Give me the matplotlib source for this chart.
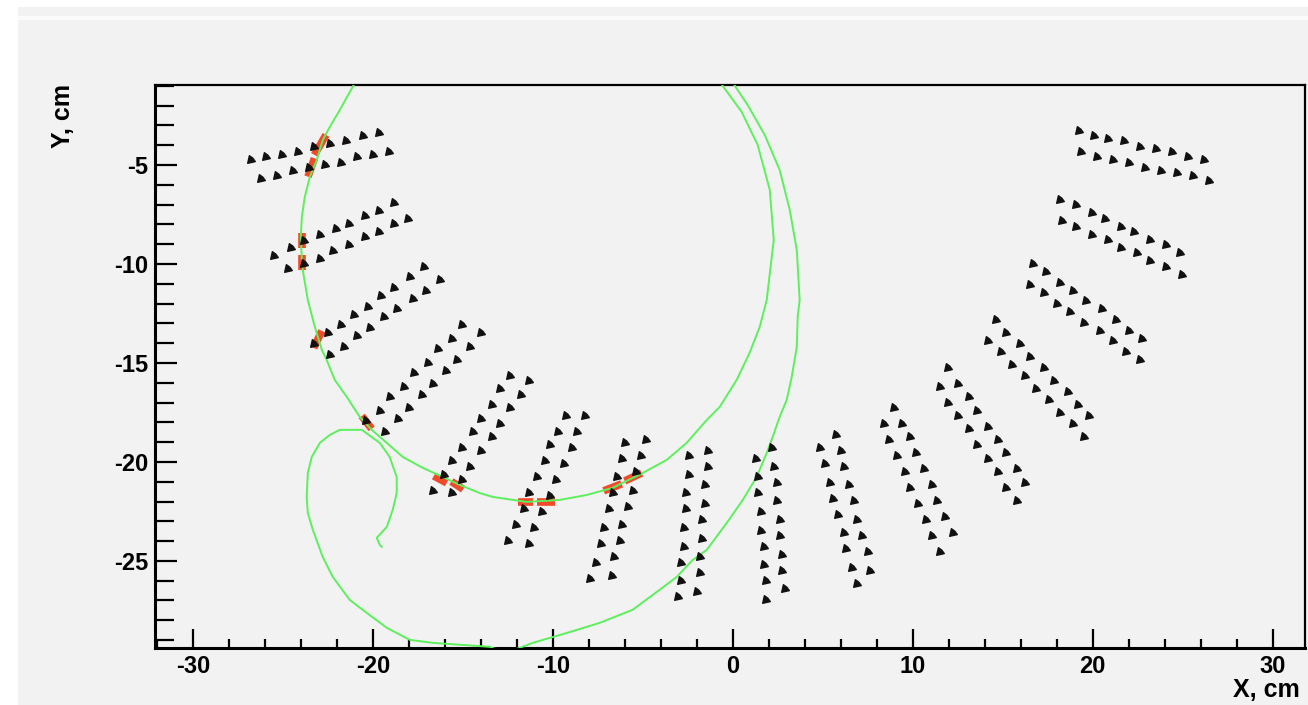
import matplotlib
matplotlib.use('Agg')
import matplotlib.pyplot as plt
from matplotlib.ticker import MultipleLocator
from matplotlib.path import Path
from matplotlib.patches import Rectangle

plt.rcParams['axes.unicode_minus'] = False

# wire positions, cm: two rows per sector, sectors from left to right
wire_x = [
    [-19.68, -20.57, -21.46, -22.35, -23.24, -24.13, -25.02, -25.91, -26.79],
    [-19.09, -19.98, -20.87, -21.76, -22.65, -23.54, -24.43, -25.31, -26.20],
    [-18.80, -19.68, -20.43, -21.32, -22.06, -22.94, -23.83, -24.57, -25.46],
    [-18.06, -18.80, -19.68, -20.43, -21.32, -22.20, -22.94, -23.83, -24.72],
    [-17.17, -17.91, -18.80, -19.54, -20.28, -21.02, -21.76, -22.50, -23.24],
    [-16.28, -17.02, -17.76, -18.65, -19.39, -20.13, -20.87, -21.61, -22.35],
    [-15.02, -15.61, -16.35, -16.94, -17.69, -18.28, -19.02, -19.61, -20.35],
    [-13.98, -14.57, -15.32, -15.91, -16.65, -17.24, -17.98, -18.57, -19.32],
    [-12.35, -12.94, -13.39, -13.98, -14.43, -15.02, -15.61, -16.06, -16.65],
    [-11.31, -11.76, -12.35, -12.94, -13.39, -13.98, -14.57, -15.02, -15.61],
    [-9.24, -9.68, -10.13, -10.43, -10.87, -11.31, -11.61, -12.06, -12.50],
    [-8.20, -8.65, -8.94, -9.39, -9.83, -10.13, -10.57, -11.02, -11.31],
    [-5.98, -6.13, -6.43, -6.65, -6.87, -7.17, -7.31, -7.61, -7.91],
    [-4.79, -5.09, -5.39, -5.54, -5.83, -6.13, -6.28, -6.57, -6.72],
    [-2.43, -2.43, -2.57, -2.57, -2.72, -2.72, -2.87, -2.87, -3.02],
    [-1.39, -1.39, -1.54, -1.54, -1.68, -1.68, -1.83, -1.83, -1.98],
    [1.28, 1.43, 1.43, 1.57, 1.57, 1.72, 1.72, 1.87, 1.87],
    [2.17, 2.32, 2.46, 2.46, 2.61, 2.61, 2.76, 2.76, 2.91],
    [4.83, 5.13, 5.43, 5.57, 5.87, 6.17, 6.32, 6.61, 6.91],
    [5.72, 6.02, 6.17, 6.46, 6.76, 6.91, 7.20, 7.50, 7.65],
    [8.39, 8.68, 9.13, 9.57, 9.87, 10.32, 10.76, 11.06, 11.50],
    [8.98, 9.43, 9.87, 10.17, 10.61, 11.06, 11.35, 11.79, 12.24],
    [11.50, 11.94, 12.54, 13.13, 13.57, 14.17, 14.76, 15.20, 15.80],
    [11.94, 12.54, 13.13, 13.57, 14.17, 14.76, 15.20, 15.80, 16.24],
    [14.17, 14.91, 15.50, 16.24, 16.83, 17.57, 18.17, 18.91, 19.50],
    [14.61, 15.20, 15.94, 16.54, 17.28, 17.87, 18.61, 19.20, 19.80],
    [16.54, 17.28, 18.02, 18.76, 19.50, 20.39, 21.13, 21.87, 22.61],
    [16.69, 17.43, 18.17, 18.91, 19.65, 20.54, 21.28, 22.02, 22.76],
    [18.32, 19.06, 19.94, 20.83, 21.57, 22.46, 23.21, 24.09, 24.98],
    [18.17, 19.06, 19.94, 20.68, 21.57, 22.32, 23.21, 24.09, 24.83],
    [19.35, 20.24, 21.13, 22.02, 22.91, 23.79, 24.68, 25.57, 26.46],
    [19.22, 20.09, 20.85, 21.72, 22.61, 23.50, 24.41, 25.28, 26.17],
]
wire_y = [
    [-3.35, -3.48, -3.75, -3.89, -4.03, -4.29, -4.43, -4.56, -4.70],
    [-4.29, -4.43, -4.56, -4.83, -4.96, -5.10, -5.24, -5.51, -5.64],
    [-6.85, -7.26, -7.53, -7.93, -8.20, -8.47, -8.80, -9.14, -9.55],
    [-7.66, -7.93, -8.33, -8.60, -9.00, -9.28, -9.68, -9.95, -10.22],
    [-10.09, -10.62, -11.16, -11.57, -12.11, -12.51, -13.05, -13.45, -13.99],
    [-10.76, -11.30, -11.70, -12.24, -12.64, -13.18, -13.59, -14.13, -14.53],
    [-13.05, -13.72, -14.26, -14.93, -15.47, -16.15, -16.68, -17.36, -17.89],
    [-13.45, -14.13, -14.80, -15.34, -16.01, -16.55, -17.22, -17.76, -18.43],
    [-15.61, -16.28, -17.09, -17.76, -18.43, -19.24, -19.91, -20.59, -21.40],
    [-15.87, -16.55, -17.22, -18.03, -18.70, -19.38, -20.19, -20.86, -21.53],
    [-17.63, -18.43, -19.11, -19.91, -20.72, -21.53, -22.34, -23.15, -23.95],
    [-17.63, -18.43, -19.24, -20.05, -20.86, -21.67, -22.47, -23.28, -24.09],
    [-18.97, -19.78, -20.72, -21.53, -22.34, -23.28, -24.09, -25.04, -25.84],
    [-18.84, -19.65, -20.45, -21.40, -22.21, -23.15, -23.95, -24.76, -25.71],
    [-19.65, -20.59, -21.53, -22.34, -23.28, -24.23, -25.04, -25.97, -26.78],
    [-19.38, -20.19, -21.13, -22.07, -22.88, -23.82, -24.76, -25.57, -26.52],
    [-19.78, -20.72, -21.53, -22.47, -23.42, -24.23, -25.17, -25.97, -26.92],
    [-19.24, -20.19, -20.99, -21.93, -22.88, -23.69, -24.63, -25.44, -26.38],
    [-19.24, -20.05, -20.99, -21.80, -22.61, -23.55, -24.36, -25.30, -26.11],
    [-18.57, -19.38, -20.19, -21.13, -21.93, -22.88, -23.69, -24.49, -25.44],
    [-18.03, -18.84, -19.65, -20.45, -21.26, -22.07, -22.88, -23.69, -24.49],
    [-17.22, -18.03, -18.70, -19.51, -20.32, -21.13, -21.93, -22.74, -23.55],
    [-16.15, -16.95, -17.63, -18.30, -19.11, -19.78, -20.45, -21.26, -21.93],
    [-15.20, -16.01, -16.68, -17.36, -18.17, -18.84, -19.51, -20.32, -20.99],
    [-13.85, -14.39, -15.07, -15.61, -16.28, -16.82, -17.49, -18.03, -18.70],
    [-12.78, -13.45, -13.99, -14.66, -15.20, -15.87, -16.41, -17.09, -17.63],
    [-11.03, -11.43, -11.97, -12.37, -12.91, -13.32, -13.85, -14.39, -14.80],
    [-9.95, -10.35, -10.89, -11.30, -11.83, -12.24, -12.78, -13.32, -13.72],
    [-7.79, -8.07, -8.47, -8.74, -9.14, -9.41, -9.81, -10.09, -10.49],
    [-6.72, -6.98, -7.39, -7.66, -8.07, -8.33, -8.74, -9.00, -9.41],
    [-4.29, -4.56, -4.70, -4.83, -5.10, -5.24, -5.37, -5.51, -5.77],
    [-3.22, -3.48, -3.62, -3.75, -4.03, -4.16, -4.29, -4.56, -4.70],
]

# fired cells (short segments), cm
hit_x0 = [-22.60, -23.24, -23.92, -23.92, -22.83, -20.61, -16.61, -15.63, -11.94, -10.89, -7.17, -6.00]
hit_x1 = [-23.24, -23.60, -23.92, -23.92, -23.28, -20.06, -15.89, -14.98, -11.11, -9.89, -6.17, -5.06]
hit_y0 = [-3.48, -4.66, -8.43, -9.55, -13.38, -17.68, -20.71, -20.99, -22.00, -22.00, -21.46, -20.96]
hit_y1 = [-4.49, -5.59, -9.19, -10.30, -14.24, -18.33, -21.06, -21.38, -22.00, -22.00, -21.11, -20.56]

# track 1 (arc)
trk1_x = [-20.90, -21.83, -22.39, -22.78, -23.11, -23.50, -23.78, -23.94, -24.00, -23.94,
          -23.89, -23.61, -23.22, -22.83, -22.56, -22.11, -21.44, -20.72, -20.06, -19.22,
          -18.33, -17.22, -16.11, -15.17, -14.06, -13.33, -11.44, -9.61, -8.11, -6.67,
          -5.00, -3.67, -2.56, -1.44, -0.72, 0.22, 0.94, 1.50, 1.89, 2.28,
          2.06, 1.39, 0.50, -0.80]
trk1_y = [-0.70, -2.22, -3.08, -3.74, -4.75, -5.61, -6.62, -7.63, -8.64, -9.80,
          -10.30, -11.82, -13.18, -14.34, -14.85, -15.86, -16.72, -17.73, -18.38, -19.04,
          -19.75, -20.30, -20.76, -21.16, -21.57, -21.77, -22.02, -21.92, -21.67, -21.31,
          -20.56, -19.90, -19.04, -17.88, -17.22, -15.86, -14.49, -13.18, -11.82, -8.79,
          -6.26, -3.99, -2.32, -0.70]

# track 2 (spiral)
trk2_x = [-0.10, 0.83, 1.78, 2.61, 3.17, 3.56, 3.72, 3.61, 3.56, 3.28,
          3.00, 2.61, 2.22, 1.89, 1.33, 0.56, -0.33, -1.44, -2.22, -3.11,
          -4.06, -5.56, -7.39, -9.22, -11.11, -11.83, -12.67, -13.50, -16.67, -17.94,
          -19.22, -20.33, -21.28, -22.22, -22.78, -23.33, -23.61, -23.67, -23.61, -23.39,
          -22.94, -22.39, -21.83, -20.61, -19.61, -19.06, -18.67, -18.67, -18.89, -19.22,
          -19.78, -19.61, -19.50]
trk2_y = [-0.70, -1.97, -3.48, -5.25, -7.27, -9.29, -11.82, -12.68, -14.19, -15.71,
          -16.87, -17.73, -18.74, -19.55, -20.76, -21.92, -23.08, -24.44, -24.95, -25.81,
          -26.46, -27.47, -28.13, -28.64, -29.14, -29.39, -29.65, -29.34, -29.14, -28.99,
          -28.38, -27.63, -26.97, -25.81, -24.80, -23.43, -22.58, -21.77, -20.56, -19.75,
          -19.04, -18.64, -18.38, -18.38, -19.04, -19.75, -20.76, -21.57, -22.42, -23.28,
          -23.84, -24.19, -24.29]

x_ticks = [-30, -20, -10, 0, 10, 20, 30]
y_ticks = [-25, -20, -15, -10, -5]

BG = '#f2f2f2'
fig = plt.figure(figsize=(13.08, 7.05), dpi=100, facecolor='white')
fig.patches.append(Rectangle((18 / 1308, 0), 1, 1 - 7 / 705, transform=fig.transFigure,
                             facecolor=BG, edgecolor='none', zorder=-10))
fig.patches.append(Rectangle((18 / 1308, 1 - 20 / 705), 1, 4 / 705, transform=fig.transFigure,
                             facecolor='#fbfbfb', edgecolor='none', zorder=-9))

ax = fig.add_axes([155 / 1308, 1 - 648 / 705, 1150 / 1308, 563 / 705])
ax.set_facecolor(BG)
ax.set_xlim(-32.1, 31.8)
ax.set_ylim(-29.4, -0.96)

# blob-like arrow-head marker, dark toward the lower left
mk = Path([(-1, -1), (1, -0.55), (0.35, 0.35), (-0.55, 1), (-1, -1)],
          [Path.MOVETO, Path.LINETO, Path.LINETO, Path.LINETO, Path.CLOSEPOLY])
for xs, ys in zip(wire_x, wire_y):
    ax.plot(xs, ys, ls='none', marker=mk, ms=5.5, color='#111111', zorder=5)

for a, b, c, d in zip(hit_x0, hit_x1, hit_y0, hit_y1):
    ax.plot([a, b], [c, d], color='#ef4b2b', lw=5.5, solid_capstyle='butt', zorder=3)

ax.plot(trk1_x, trk1_y, color='#5cf05c', lw=1.4, zorder=4)
ax.plot(trk2_x, trk2_y, color='#5cf05c', lw=1.4, zorder=4)

for s in ax.spines.values():
    s.set_linewidth(1.6)
ax.spines['left'].set_linewidth(2.2)
ax.spines['bottom'].set_linewidth(2.2)

ax.set_xticks(x_ticks)
ax.set_yticks(y_ticks)
ax.xaxis.set_minor_locator(MultipleLocator(2))
ax.yaxis.set_minor_locator(MultipleLocator(1))
ax.tick_params(which='both', direction='in', top=False, right=False, width=1.6, color='black')
ax.tick_params(axis='x', which='major', length=14, pad=5)
ax.tick_params(axis='x', which='minor', length=6.5)
ax.tick_params(axis='y', which='major', length=16, pad=5)
ax.tick_params(axis='y', which='minor', length=14)
for lab in ax.get_xticklabels() + ax.get_yticklabels():
    lab.set_fontfamily('Liberation Sans')
    lab.set_fontweight('bold')
    lab.set_fontsize(17)

fig.text(1300 / 1308, 1 - 702 / 705, 'X, cm', ha='right', va='bottom',
         fontfamily='Liberation Sans', fontweight='bold', fontsize=18)
fig.text(63 / 1308, 1 - 84 / 705, 'Y, cm', ha='center', va='top', rotation=90,
         fontfamily='Liberation Sans', fontweight='bold', fontsize=18)

fig.savefig('out.png', dpi=100, facecolor=fig.get_facecolor())
